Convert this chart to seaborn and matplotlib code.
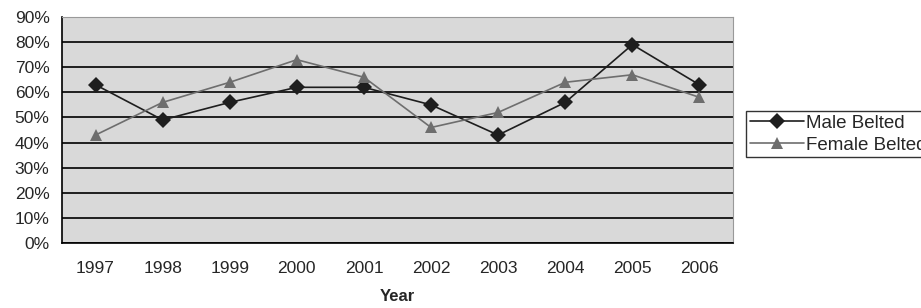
import numpy as np
import pandas as pd
import matplotlib
matplotlib.use("Agg")
import matplotlib.pyplot as plt
import seaborn as sns

# values
years = ['1997', '1998', '1999', '2000', '2001', '2002', '2003', '2004', '2005', '2006']
male_belted = [63, 49, 56, 62, 62, 55, 43, 56, 79, 63]
female_belted = [43, 56, 64, 73, 66, 46, 52, 64, 67, 58]
series_names = ['Male Belted', 'Female Belted']

df = pd.DataFrame({
    'Year': years * 2,
    'pct': male_belted + female_belted,
    'series': [series_names[0]] * len(years) + [series_names[1]] * len(years),
})
df['pos'] = list(range(len(years))) * 2

sns.set_style('white')
plt.rcParams['font.family'] = ['Liberation Sans', 'DejaVu Sans']

fig = plt.figure(figsize=(9.21, 3.08), dpi=100)
ax = fig.add_axes([62 / 921, 1 - 243 / 308, (733 - 62) / 921, (243 - 17) / 308])
ax.set_facecolor('#d9d9d9')

sns.lineplot(data=df, x='pos', y='pct', hue='series', style='series',
             palette={series_names[0]: '#1e1e1e', series_names[1]: '#6e6e6e'},
             markers={series_names[0]: 'D', series_names[1]: '^'},
             dashes=False, markersize=8, linewidth=1.2, markeredgewidth=0,
             ax=ax, legend=True)

ax.set_xlim(-0.5, len(years) - 0.5)
ax.set_ylim(0, 90)
ax.set_yticks(np.arange(0, 91, 10))
ax.set_yticklabels([f'{v}%' for v in range(0, 91, 10)], fontsize=12.5)
ax.yaxis.grid(True, color='black', linewidth=1.2)
ax.set_axisbelow(True)

# Excel style category axis: ticks between categories, labels centered
ax.set_xticks(np.arange(len(years)))
ax.set_xticklabels(years, fontsize=12.5)
ax.set_xticks(np.arange(-0.5, len(years)), minor=True)
ax.tick_params(axis='x', which='major', length=0, pad=13)
ax.tick_params(axis='x', which='minor', length=5, width=1.2, color='black', direction='out')
ax.tick_params(axis='y', length=6, width=1.2, color='black', direction='out', pad=3)

for side in ['left', 'bottom']:
    ax.spines[side].set_color('black')
    ax.spines[side].set_linewidth(1.2)
for side in ['top', 'right']:
    ax.spines[side].set_color('#999999')
    ax.spines[side].set_linewidth(0.8)

ax.set_xlabel('Year', fontsize=12, fontweight='bold', labelpad=9)
ax.set_ylabel('')

handles, labels = ax.get_legend_handles_labels()
ax.legend(handles, labels, loc='upper left', bbox_to_anchor=(746 / 921, 1 - 111 / 308),
          bbox_transform=fig.transFigure, fontsize=13.5, frameon=True, fancybox=False,
          edgecolor='black', handlelength=2.9, handletextpad=0.1, borderpad=0.2,
          labelspacing=0.25, borderaxespad=0)
ax.get_legend().get_frame().set_linewidth(1.0)

fig.savefig('out.png', dpi=100)
